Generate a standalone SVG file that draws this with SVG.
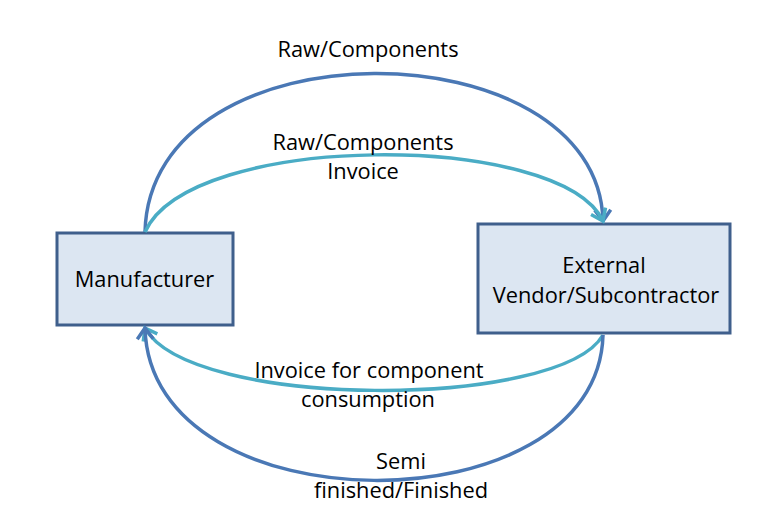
<svg xmlns="http://www.w3.org/2000/svg" width="771" height="526" viewBox="0 0 771 526">
<style>
.box{fill:#dce6f2;stroke:#3f5f8c;stroke-width:3}
.lbl{font-family:"Open Sans","Liberation Sans",sans-serif;font-size:21.8px;fill:#000;text-anchor:middle}
.blue{fill:none;stroke:#4a78b5;stroke-width:3.5}
.teal{fill:none;stroke:#4aacc5;stroke-width:3.5}
</style>
<defs>
<marker id="ab" markerUnits="userSpaceOnUse" markerWidth="24" markerHeight="24" viewBox="0 0 24 24" refX="18" refY="12" orient="auto">
<path d="M7,4 L18,12 L7,20" fill="none" stroke="#4a78b5" stroke-width="3.5" stroke-linejoin="miter"/>
</marker>
<marker id="at" markerUnits="userSpaceOnUse" markerWidth="24" markerHeight="24" viewBox="0 0 24 24" refX="18" refY="12" orient="auto">
<path d="M7,4 L18,12 L7,20" fill="none" stroke="#4aacc5" stroke-width="3.5" stroke-linejoin="miter"/>
</marker>
</defs>
<rect width="771" height="526" fill="#fff"/>
<g id="manufacturer">
<rect class="box" x="57" y="233" width="176" height="92"/>
<text class="lbl" x="144.5" y="287">Manufacturer</text>
</g>
<g id="vendor">
<rect class="box" x="478" y="224" width="252" height="109"/>
<text class="lbl" x="604" y="273">External</text>
<text class="lbl" x="606" y="303">Vendor/Subcontractor</text>
</g>
<g id="connectors">
<path class="blue" d="M145,232 C150,20 598,25 603,221" marker-end="url(#ab)"/>
<path class="teal" d="M145,232 C190,131 560,131 603,221" marker-end="url(#at)"/>
<path class="teal" d="M603,335 C560,410 190,410 145,328" marker-end="url(#at)"/>
<path class="blue" d="M603,335 C598,530 150,530 145,328" marker-end="url(#ab)"/>
</g>
<g id="labels">
<text class="lbl" x="368" y="57">Raw/Components</text>
<text class="lbl" x="363" y="150">Raw/Components</text>
<text class="lbl" x="363" y="179">Invoice</text>
<text class="lbl" x="369" y="378">Invoice for component</text>
<text class="lbl" x="368" y="407">consumption</text>
<text class="lbl" x="401" y="469">Semi</text>
<text class="lbl" x="401" y="498">finished/Finished</text>
</g>
</svg>
